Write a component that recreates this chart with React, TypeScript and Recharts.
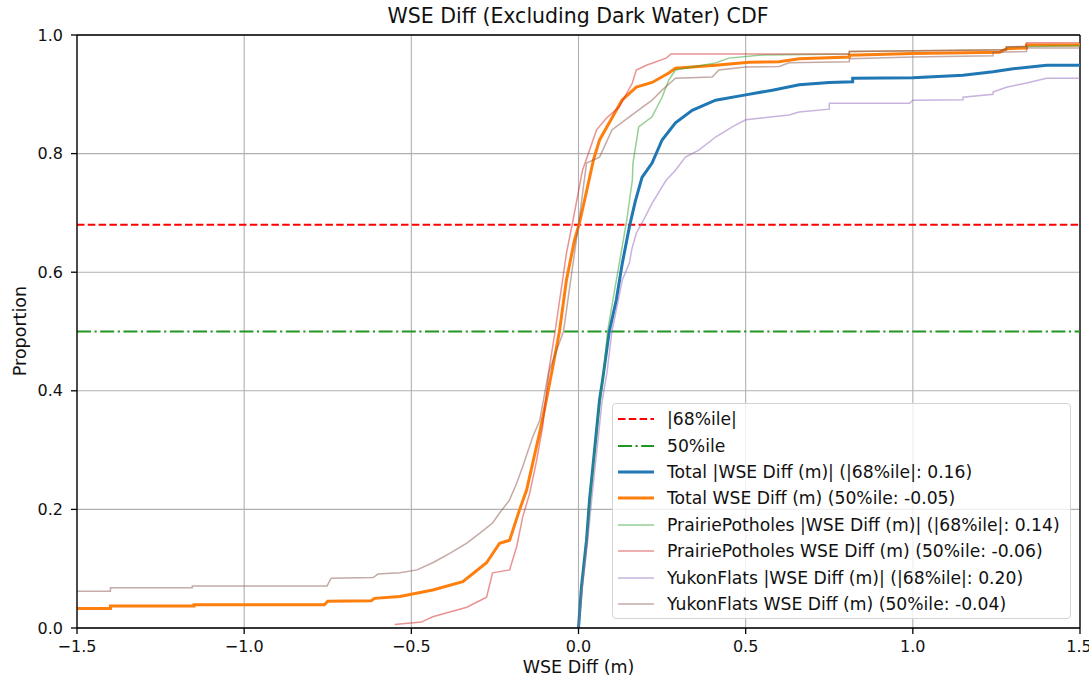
import React from 'react';
import { LineChart, Line, XAxis, YAxis, CartesianGrid, ReferenceLine } from 'recharts';

// axis ticks
const xTicks = [-1.5, -1, -0.5, 0, 0.5, 1, 1.5];
const yTicks = [0, 0.2, 0.4, 0.6, 0.8, 1];

// horizontal percentile guides
const p68Level = 0.68;
const p50Level = 0.5;

// Total |WSE Diff (m)|
const totalAbsX = [0, 0.009, 0.024, 0.033, 0.048, 0.063, 0.072, 0.092, 0.113, 0.131, 0.152, 0.17, 0.19, 0.22, 0.25, 0.29, 0.34, 0.41, 0.5, 0.58, 0.66, 0.75, 0.82, 0.82, 1.0, 1.15, 1.24, 1.3, 1.4, 1.5];
const totalAbsY = [0, 0.07, 0.148, 0.216, 0.3, 0.385, 0.418, 0.5, 0.553, 0.615, 0.676, 0.72, 0.76, 0.784, 0.823, 0.852, 0.873, 0.89, 0.899, 0.907, 0.916, 0.92, 0.921, 0.927, 0.928, 0.932, 0.938, 0.943, 0.949, 0.949];

// Total WSE Diff (m)
const totalX = [-1.5, -1.4, -1.4, -1.15, -1.15, -0.76, -0.75, -0.62, -0.61, -0.534, -0.436, -0.346, -0.275, -0.236, -0.206, -0.176, -0.155, -0.137, -0.116, -0.096, -0.077, -0.057, -0.036, -0.012, 0.003, 0.027, 0.045, 0.063, 0.1, 0.13, 0.173, 0.22, 0.27, 0.29, 0.41, 0.51, 0.6, 0.66, 0.81, 0.81, 1.0, 1.26, 1.28, 1.34, 1.34, 1.5];
const totalY = [0.033, 0.033, 0.037, 0.037, 0.039, 0.039, 0.045, 0.046, 0.05, 0.053, 0.064, 0.078, 0.11, 0.143, 0.148, 0.2, 0.233, 0.278, 0.33, 0.385, 0.44, 0.5, 0.587, 0.654, 0.683, 0.744, 0.79, 0.823, 0.86, 0.89, 0.912, 0.92, 0.936, 0.944, 0.949, 0.954, 0.955, 0.96, 0.963, 0.966, 0.969, 0.971, 0.977, 0.978, 0.983, 0.983];

// PrairiePotholes |WSE Diff (m)|
const ppAbsX = [0, 0.01, 0.025, 0.04, 0.06, 0.075, 0.087, 0.105, 0.122, 0.143, 0.161, 0.163, 0.18, 0.22, 0.25, 0.27, 0.29, 0.41, 0.45, 0.54, 0.81, 0.81, 1.28, 1.28, 1.5];
const ppAbsY = [0, 0.07, 0.15, 0.25, 0.36, 0.43, 0.5, 0.56, 0.615, 0.683, 0.755, 0.784, 0.845, 0.862, 0.895, 0.924, 0.941, 0.953, 0.961, 0.966, 0.968, 0.972, 0.975, 0.98, 0.982];

// PrairiePotholes WSE Diff (m)
const ppX = [-0.55, -0.47, -0.436, -0.334, -0.275, -0.257, -0.206, -0.185, -0.167, -0.146, -0.125, -0.107, -0.087, -0.07, -0.036, -0.018, 0.012, 0.054, 0.084, 0.122, 0.161, 0.173, 0.203, 0.262, 0.277, 0.81, 0.81, 1.28, 1.28, 1.34, 1.34, 1.5];
const ppY = [0.006, 0.01, 0.019, 0.035, 0.052, 0.093, 0.098, 0.137, 0.187, 0.227, 0.283, 0.34, 0.44, 0.5, 0.632, 0.683, 0.772, 0.84, 0.86, 0.879, 0.919, 0.941, 0.949, 0.961, 0.968, 0.968, 0.972, 0.975, 0.98, 0.981, 0.987, 0.987];

// YukonFlats |WSE Diff (m)|
const yfAbsX = [0, 0.012, 0.028, 0.04, 0.055, 0.07, 0.085, 0.1, 0.118, 0.131, 0.152, 0.16, 0.173, 0.19, 0.22, 0.262, 0.29, 0.32, 0.36, 0.41, 0.46, 0.5, 0.58, 0.63, 0.66, 0.75, 0.75, 0.99, 1.0, 1.15, 1.15, 1.24, 1.24, 1.28, 1.34, 1.4, 1.5];
const yfAbsY = [0, 0.07, 0.15, 0.22, 0.3, 0.38, 0.43, 0.5, 0.55, 0.587, 0.615, 0.64, 0.666, 0.683, 0.716, 0.755, 0.772, 0.794, 0.806, 0.828, 0.845, 0.857, 0.862, 0.865, 0.87, 0.875, 0.885, 0.885, 0.89, 0.891, 0.895, 0.9, 0.904, 0.912, 0.919, 0.927, 0.927];

// YukonFlats WSE Diff (m)
const yfX = [-1.5, -1.4, -1.4, -1.155, -1.155, -0.752, -0.74, -0.614, -0.6, -0.534, -0.483, -0.436, -0.385, -0.334, -0.295, -0.257, -0.236, -0.206, -0.185, -0.167, -0.137, -0.116, -0.09, -0.045, -0.02, 0, 0.024, 0.063, 0.1, 0.152, 0.22, 0.25, 0.29, 0.4, 0.42, 0.5, 0.6, 0.63, 0.81, 0.81, 1.0, 1.24, 1.24, 1.34, 1.34, 1.5];
const yfY = [0.062, 0.062, 0.068, 0.068, 0.071, 0.071, 0.084, 0.085, 0.091, 0.093, 0.098, 0.11, 0.126, 0.143, 0.16, 0.177, 0.194, 0.216, 0.244, 0.272, 0.322, 0.35, 0.43, 0.5, 0.6, 0.68, 0.784, 0.794, 0.84, 0.862, 0.89, 0.907, 0.927, 0.929, 0.941, 0.946, 0.947, 0.953, 0.955, 0.96, 0.963, 0.965, 0.971, 0.972, 0.978, 0.978];

const toPoints = (xs: number[], ys: number[]) => xs.map((x, i) => ({ x, y: ys[i] }));
const flat = (level: number) => [{ x: -1.5, y: level }, { x: 1.5, y: level }];

const FONT = '"DejaVu Sans", sans-serif';
const fmtX = (v: number) => (v < 0 ? '\u2212' + Math.abs(v).toFixed(1) : v.toFixed(1));

const series = [
  { name: '|68%ile|', data: flat(p68Level), color: '#ff0000', width: 2, dash: '7.5 3.3', opacity: 1 },
  { name: '50%ile', data: flat(p50Level), color: '#229622', width: 2, dash: '14 3.5 2.2 3.5', opacity: 1 },
  { name: 'Total |WSE Diff (m)| (|68%ile|: 0.16)', data: toPoints(totalAbsX, totalAbsY), color: '#1f77b4', width: 3, dash: undefined, opacity: 1 },
  { name: 'Total WSE Diff (m) (50%ile: -0.05)', data: toPoints(totalX, totalY), color: '#ff7f0e', width: 3, dash: undefined, opacity: 1 },
  { name: 'PrairiePotholes |WSE Diff (m)| (|68%ile|: 0.14)', data: toPoints(ppAbsX, ppAbsY), color: '#2ca02c', width: 1.5, dash: undefined, opacity: 0.5 },
  { name: 'PrairiePotholes WSE Diff (m) (50%ile: -0.06)', data: toPoints(ppX, ppY), color: '#d62728', width: 1.5, dash: undefined, opacity: 0.5 },
  { name: 'YukonFlats |WSE Diff (m)| (|68%ile|: 0.20)', data: toPoints(yfAbsX, yfAbsY), color: '#9467bd', width: 1.5, dash: undefined, opacity: 0.5 },
  { name: 'YukonFlats WSE Diff (m) (50%ile: -0.04)', data: toPoints(yfX, yfY), color: '#8c564b', width: 1.5, dash: undefined, opacity: 0.5 },
];

export default function App() {
  return (
    <div style={{ position: 'absolute', left: 0, top: 0, width: 1089, height: 683, background: '#fff', fontFamily: FONT }}>
      <LineChart width={1089} height={683} margin={{ top: 35, right: 9, bottom: 0, left: 0 }}>
        <CartesianGrid stroke="#b0b0b0" strokeWidth={1.1} />
        <XAxis
          type="number"
          dataKey="x"
          domain={[-1.5, 1.5]}
          ticks={xTicks}
          tickFormatter={fmtX}
          allowDataOverflow
          height={55}
          stroke="#000"
          strokeWidth={1.3}
          tickSize={6}
          tickMargin={7}
          tick={{ fill: '#111', fontSize: 16, fontFamily: FONT }}
        />
        <YAxis
          type="number"
          dataKey="y"
          domain={[0, 1]}
          ticks={yTicks}
          tickFormatter={(v: number) => v.toFixed(1)}
          allowDataOverflow
          width={77}
          stroke="#000"
          strokeWidth={1.3}
          tickSize={6}
          tickMargin={8}
          tick={{ fill: '#111', fontSize: 16, fontFamily: FONT }}
        />
        <ReferenceLine y={1} stroke="#000" strokeWidth={1.3} />
        <ReferenceLine x={1.5} stroke="#000" strokeWidth={1.3} />
        {series.map((s) => (
          <Line
            key={s.name}
            name={s.name}
            data={s.data}
            dataKey="y"
            type="linear"
            stroke={s.color}
            strokeWidth={s.width}
            strokeOpacity={s.opacity}
            strokeDasharray={s.dash}
            dot={false}
            activeDot={false}
            isAnimationActive={false}
          />
        ))}
      </LineChart>

      <div style={{ position: 'absolute', left: 0, width: 1156, top: 4, textAlign: 'center', fontSize: 20.5, color: '#111' }}>
        WSE Diff (Excluding Dark Water) CDF
      </div>
      <div style={{ position: 'absolute', left: 77, width: 1003, top: 657, textAlign: 'center', fontSize: 17.5, color: '#111' }}>
        WSE Diff (m)
      </div>
      <div
        style={{
          position: 'absolute',
          left: 20,
          top: 331,
          transform: 'translate(-50%, -50%) rotate(-90deg)',
          fontSize: 17.5,
          color: '#111',
          whiteSpace: 'nowrap',
        }}
      >
        Proportion
      </div>

      <div
        style={{
          position: 'absolute',
          left: 612,
          top: 403,
          width: 459,
          height: 216,
          border: '1px solid #d4d4d4',
          borderRadius: 4,
          background: 'rgba(255,255,255,0.8)',
          boxSizing: 'border-box',
          paddingTop: 2,
        }}
      >
        {series.map((s) => (
          <div key={s.name} style={{ display: 'flex', alignItems: 'center', height: 26.4, fontSize: 17.2, color: '#111' }}>
            <svg width={50} height={10} style={{ marginLeft: 4, flex: 'none' }}>
              <line
                x1={1}
                x2={37}
                y1={5}
                y2={5}
                stroke={s.color}
                strokeWidth={s.width}
                strokeOpacity={s.opacity}
                strokeDasharray={s.dash}
              />
            </svg>
            <span style={{ whiteSpace: 'nowrap' }}>{s.name}</span>
          </div>
        ))}
      </div>
    </div>
  );
}
